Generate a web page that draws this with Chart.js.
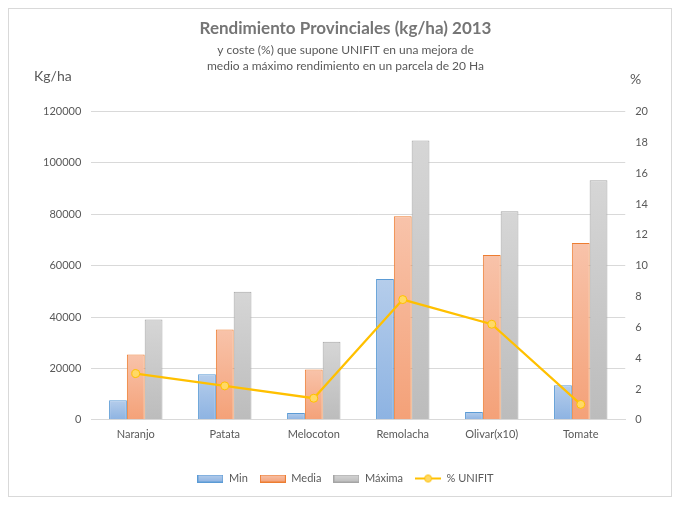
<!DOCTYPE html>
<html><head><meta charset="utf-8">
<script src="https://cdn.jsdelivr.net/npm/chart.js@4.4.0/dist/chart.umd.min.js"></script>
<style>
html,body{margin:0;padding:0;background:#fff;}
#box{position:absolute;left:8px;top:8px;width:664px;height:489px;border:1px solid #d9d9d9;box-sizing:border-box;}
#box canvas{display:block;}
</style></head><body>
<div id="box"><canvas id="c"></canvas></div>
<script>
const categories = ['Naranjo','Patata','Melocoton','Remolacha','Olivar(x10)','Tomate'];
const minValues = [7600, 17700, 2600, 54800, 3000, 13400];
const mediaValues = [25400, 35100, 19600, 79200, 64100, 68800];
const maxValues = [39000, 49800, 30400, 108700, 81200, 93200];
const unifitPct = [3.0, 2.2, 1.4, 7.8, 6.2, 1.0];
const leftTicks = [0, 20000, 40000, 60000, 80000, 100000, 120000];
const rightTicks = [0, 2, 4, 6, 8, 10, 12, 14, 16, 18, 20];

const FONT = 'Lato, "Open Sans", sans-serif';

function barGrad(top, bottom){
  return function(ctx){
    const chart = ctx.chart;
    if (ctx.type !== 'data' || !chart.chartArea) return bottom;
    const y = chart.scales.y;
    const v = ctx.raw;
    const y0 = y.getPixelForValue(0), y1 = y.getPixelForValue(v);
    if (!isFinite(y0) || !isFinite(y1) || y0 === y1) return bottom;
    const g = chart.ctx.createLinearGradient(0, y1, 0, y0);
    g.addColorStop(0, top); g.addColorStop(1, bottom);
    return g;
  };
}

function boxImg(top, bottom, border){
  const c = document.createElement('canvas');
  c.width = 26; c.height = 8;
  const x = c.getContext('2d');
  const g = x.createLinearGradient(0,0,0,8);
  g.addColorStop(0, top); g.addColorStop(1, bottom);
  x.fillStyle = g; x.fillRect(0.5,0.5,25,7);
  x.strokeStyle = border; x.lineWidth = 1; x.strokeRect(0.5,0.5,25,7);
  return c;
}
function lineImg(){
  const c = document.createElement('canvas');
  c.width = 26; c.height = 10;
  const x = c.getContext('2d');
  x.strokeStyle = '#ffc000'; x.lineWidth = 2;
  x.beginPath(); x.moveTo(0,5); x.lineTo(26,5); x.stroke();
  x.beginPath(); x.arc(13,5,3.5,0,Math.PI*2);
  x.fillStyle = '#ffd966'; x.fill(); x.lineWidth = 1; x.stroke();
  return c;
}

const COLORS = [
  {top:'#b5cdeb', bottom:'#8db3e2', border:'#5b9bd5'},
  {top:'#f8c3aa', bottom:'#f4a178', border:'#ed7d31'},
  {top:'#d6d6d6', bottom:'#bcbcbc', border:'#a5a5a5'}
];
const legendImgs = [
  boxImg(COLORS[0].top, COLORS[0].bottom, COLORS[0].border),
  boxImg(COLORS[1].top, COLORS[1].bottom, COLORS[1].border),
  boxImg(COLORS[2].top, COLORS[2].bottom, COLORS[2].border),
  lineImg()
];

const sideLabels = {
  id: 'sideLabels',
  afterDraw(chart){
    const {ctx} = chart;
    ctx.save();
    ctx.fillStyle = '#595959';
    ctx.font = '14px ' + FONT;
    ctx.textBaseline = 'middle';
    ctx.textAlign = 'left';
    ctx.fillText('Kg/ha', 25, 67);
    ctx.fillText('%', 621, 70);
    ctx.restore();
  }
};

const barDs = (label, data, c, order) => ({
  type:'bar', label, data, yAxisID:'y', order,
  backgroundColor: barGrad(c.top, c.bottom),
  borderColor: c.border, borderWidth: 1,
  categoryPercentage: 0.6, barPercentage: 1.0
});

new Chart(document.getElementById('c'), {
  data: {
    labels: categories,
    datasets: [
      barDs('Min', minValues, COLORS[0], 2),
      barDs('Media', mediaValues, COLORS[1], 2),
      barDs('Máxima', maxValues, COLORS[2], 2),
      {type:'line', label:'% UNIFIT', data: unifitPct, yAxisID:'y1', order:1,
       borderColor:'#ffc000', borderWidth:2.25, pointRadius:4, pointHoverRadius:4,
       pointBackgroundColor:'#ffd966', pointBorderColor:'#ffc000', pointBorderWidth:1,
       tension:0}
    ]
  },
  options: {
    responsive:true, maintainAspectRatio:false, animation:false,
    layout:{padding:{left:24, right:13, top:6, bottom:2}},
    plugins:{
      title:{display:true, text:'Rendimiento Provinciales (kg/ha) 2013', color:'#757575',
        font:{family:FONT, size:17, weight:'bold', lineHeight:1.3}, padding:{top:2, bottom:3}},
      subtitle:{display:true, text:['y coste (%) que supone UNIFIT en una mejora de','medio a máximo rendimiento en un parcela de 20 Ha'],
        color:'#595959', font:{family:FONT, size:12, lineHeight:1.35}, padding:{top:0, bottom:37}},
      legend:{position:'bottom', labels:{usePointStyle:true, pointStyleWidth:26, boxHeight:8,
        color:'#595959', font:{family:FONT, size:11}, padding:12,
        generateLabels(chart){
          return chart.data.datasets.map((d,i)=>({text:d.label, pointStyle:legendImgs[i], datasetIndex:i,
            fillStyle:'transparent', strokeStyle:'transparent', lineWidth:0, fontColor:'#595959'}));
        }}},
      tooltip:{enabled:false}
    },
    scales:{
      x:{grid:{display:false, drawTicks:false}, border:{color:'#d9d9d9'},
        afterFit(s){ s.height += 12; },
        ticks:{color:'#595959', font:{family:FONT, size:11}, padding:8}},
      y:{position:'left', min:0, max:120000, afterBuildTicks(s){s.ticks = leftTicks.map(v=>({value:v}));},
        grid:{color:'#d9d9d9', drawTicks:false}, border:{display:false},
        ticks:{color:'#595959', font:{family:FONT, size:11}, padding:10, callback:v=>String(v)}},
      y1:{position:'right', min:0, max:20, afterBuildTicks(s){s.ticks = rightTicks.map(v=>({value:v}));},
        grid:{display:false, drawTicks:false}, border:{display:false},
        ticks:{color:'#595959', font:{family:FONT, size:11}, padding:10, callback:v=>String(v)}}
    }
  },
  plugins:[sideLabels]
});
</script>
</body></html>
